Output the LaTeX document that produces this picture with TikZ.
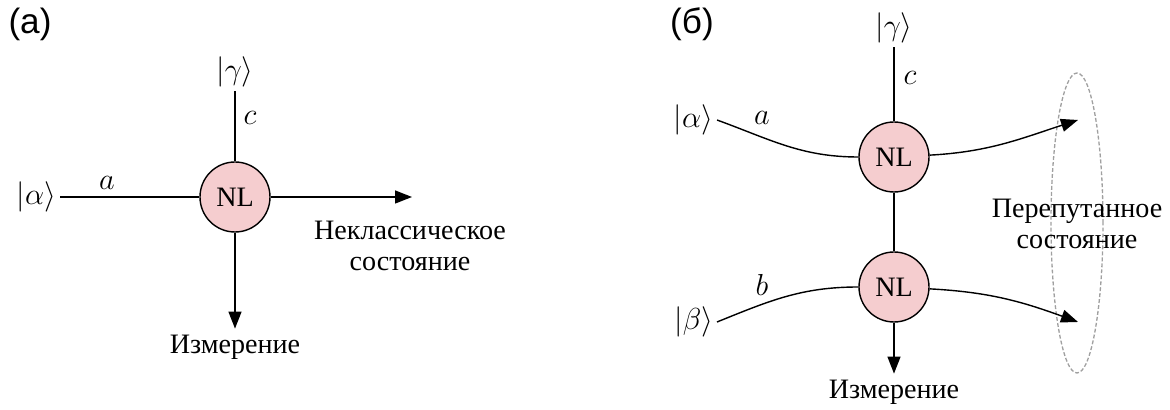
\documentclass[tikz,border=0pt]{standalone}
\usepackage{fontspec}
\setmainfont{Liberation Serif}
\setsansfont{Liberation Sans}
\usetikzlibrary{arrows.meta, positioning}
\definecolor{nlPink}{HTML}{F5CDCF}
\definecolor{elGray}{HTML}{A0A0A0}

\begin{document}
\begin{tikzpicture}[font=\fontsize{16}{18}\selectfont,
      nl/.style={circle, draw, fill=nlPink, minimum size=14mm, inner sep=0pt, line width=0.8pt},
      ket/.style={font=\fontsize{19}{21}\selectfont, inner sep=2pt},
      lab/.style={font=\fontsize{20}{22}\selectfont\sffamily},
      wire/.style={line width=0.8pt},
      arr/.style={wire, -{Triangle[length=3.4mm, width=2.6mm]}},
      txt/.style={align=center}]
    \useasboundingbox (0,0) rectangle (23.4,8.2);
    % (a)
    \node[lab] (la) at (0.6,7.72) {(a)};
    \node[nl] (nla) at (4.7,4.26) {NL};
    \node[ket] (kga) at (4.7,6.76) {$|\gamma\rangle$};
    \node[ket, anchor=east] (kaa) at (1.2,4.26) {$|\alpha\rangle$};
    \node (ca) at (5.0,5.84) {$c$};
    \node (aa) at (2.14,4.54) {$a$};
    \coordinate (outa) at (8.24,4.26);
    \node[txt] (ncl) at (8.2,3.28) {Неклассическое\\состояние};
    \node (ma) at (4.7,1.26) {Измерение};
    \draw[wire] (kga) -- (nla);
    \draw[wire] (kaa) -- (nla);
    \draw[arr] (nla) -- (outa);
    \draw[arr] (nla) -- (ma);
    % (b)
    \node[lab] (lb) at (13.84,7.72) {(б)};
    \node[nl] (nl1) at (17.88,5.06) {NL};
    \node[nl] (nl2) at (17.88,2.46) {NL};
    \node[ket] (kgb) at (17.88,7.64) {$|\gamma\rangle$};
    \node[ket, anchor=east] (kab) at (14.34,5.8) {$|\alpha\rangle$};
    \node[ket, anchor=east] (kbb) at (14.34,1.76) {$|\beta\rangle$};
    \node (cb) at (18.2,6.64) {$c$};
    \node (ab) at (15.24,5.84) {$a$};
    \node (bb) at (15.24,2.5) {$b$};
    \coordinate (outa2) at (21.56,5.8);
    \coordinate (outb2) at (21.56,1.76);
    \node (mb) at (17.88,0.36) {Измерение};
    \draw[elGray, line width=0.75pt, dash pattern=on 2.2pt off 1.2pt] (21.54,3.74) ellipse [x radius=0.52, y radius=3.0];
    \node[txt] (ent) at (21.54,3.72) {Перепутанное\\состояние};
    \draw[wire] (kgb) -- (nl1);
    \draw[wire] (nl1) -- (nl2);
    \draw[wire] (kab.east) to[out=-20, in=180] (nl1);
    \draw[wire] (kbb.east) to[out=22, in=180] (nl2);
    \draw[arr] (nl1) to[out=3, in=198] (outa2);
    \draw[arr] (nl2) to[out=-3, in=160] (outb2);
    \draw[arr] (nl2) -- (mb);
  \end{tikzpicture}
\end{document}
